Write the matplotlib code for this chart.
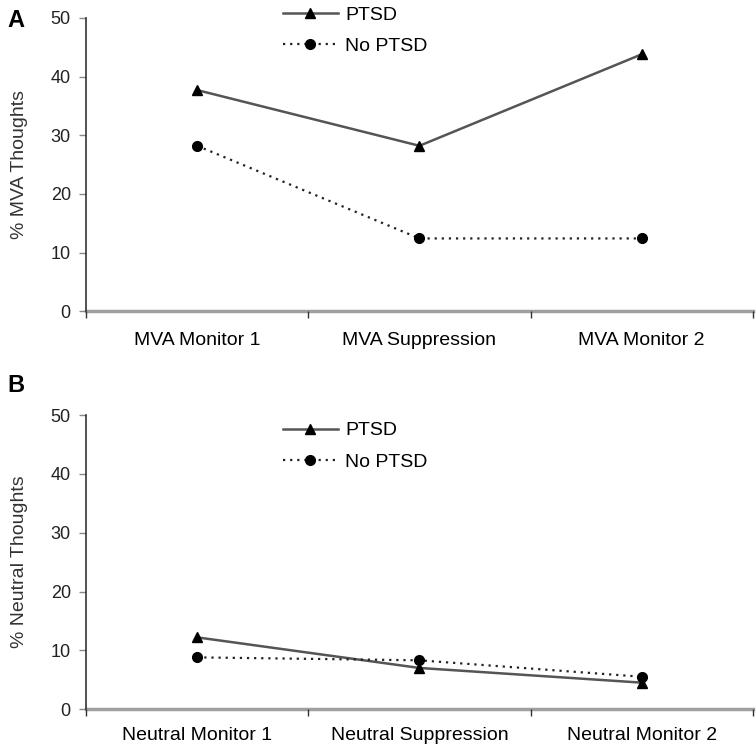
import numpy as np
import matplotlib.pyplot as plt

plt.rcParams['font.family'] = ['Liberation Sans', 'DejaVu Sans']

# data
mva_labels = ['MVA Monitor 1', 'MVA Suppression', 'MVA Monitor 2']
mva_ptsd = [37.7, 28.2, 43.8]
mva_no_ptsd = [28.2, 12.4, 12.4]

neu_labels = ['Neutral Monitor 1', 'Neutral Suppression', 'Neutral Monitor 2']
neu_ptsd = [12.2, 7.0, 4.5]
neu_no_ptsd = [8.8, 8.3, 5.5]

fig = plt.figure(figsize=(7.56, 7.48), dpi=100)
axA = fig.add_axes([0.1138, 0.584, 0.882, 0.392])
axB = fig.add_axes([0.1138, 0.052, 0.882, 0.393])


def panel(ax, labels, ptsd, no_ptsd, ylabel, leg_y, pad):
    x = np.arange(len(labels))
    ax.plot(x, ptsd, color='#555555', lw=1.8, marker='^', ms=7,
            mfc='black', mec='black', label='PTSD')
    ax.plot(x, no_ptsd, color='#222222', lw=1.6, ls=(0, (1, 2.2)), marker='o',
            ms=7, mfc='black', mec='black', label='No PTSD')
    ax.set_xlim(-0.5, len(labels) - 0.5)
    ax.set_ylim(0, 50)
    ax.set_yticks([0, 10, 20, 30, 40, 50])
    ax.set_xticks(x)
    ax.set_xticklabels(labels)
    ax.set_xticks(np.arange(len(labels) + 1) - 0.5, minor=True)
    ax.tick_params(axis='x', which='major', length=0, pad=pad, labelsize=14)
    ax.tick_params(axis='x', which='minor', length=5, width=1, color='#333333')
    ax.tick_params(axis='y', length=5, width=1, color='#888888',
                   labelsize=13, pad=6, labelcolor='#222222')
    ax.spines['top'].set_visible(False)
    ax.spines['right'].set_visible(False)
    ax.spines['left'].set_color('#333333')
    ax.spines['left'].set_linewidth(1.2)
    ax.spines['bottom'].set_color('#a0a0a0')
    ax.spines['bottom'].set_linewidth(2.5)
    ax.spines['bottom'].set_zorder(0)
    ax.set_ylabel(ylabel, fontsize=14, labelpad=16, color='#333333')
    fig.legend(handles=ax.get_lines(), loc='upper left',
               bbox_to_anchor=(0.361, leg_y), frameon=False, fontsize=14,
               handlelength=2.85, handletextpad=0.36, labelspacing=0.7,
               borderpad=0)
    return ax


panel(axA, mva_labels, mva_ptsd, mva_no_ptsd, '% MVA Thoughts', 1.005, 15)
panel(axB, neu_labels, neu_ptsd, neu_no_ptsd, '% Neutral Thoughts', 0.449, 13)

fig.text(0.01, 0.972, 'A', fontsize=17, fontweight='bold', va='center')
fig.text(0.01, 0.485, 'B', fontsize=17, fontweight='bold', va='center')

fig.savefig('out.png', dpi=100)
